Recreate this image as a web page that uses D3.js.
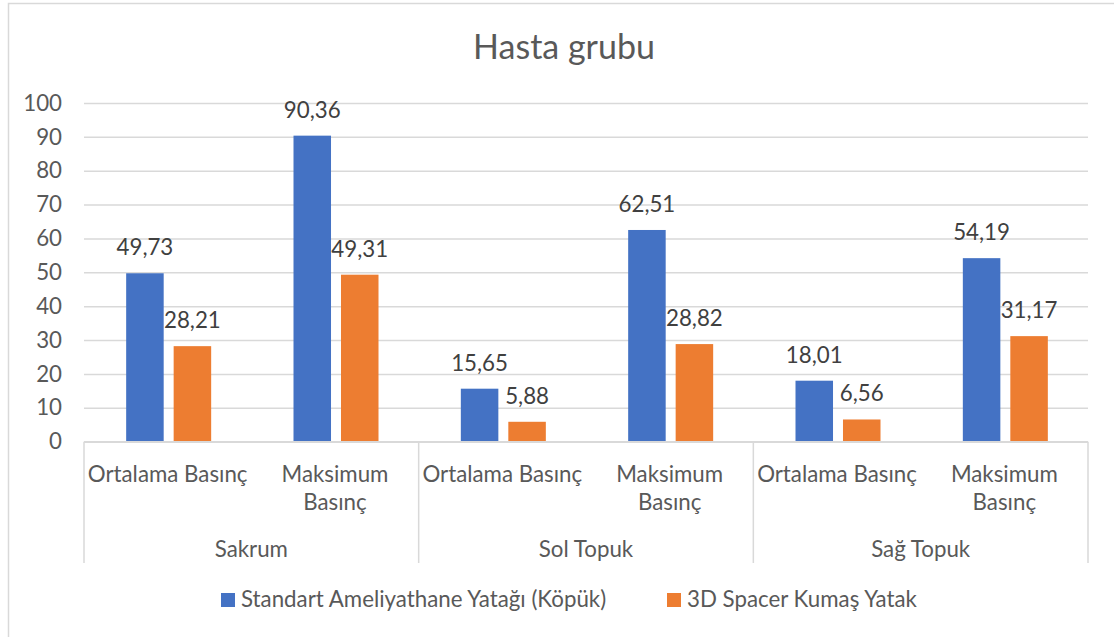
<!DOCTYPE html>
<html><head><meta charset="utf-8">
<script src="https://cdn.jsdelivr.net/npm/d3@7"></script>
<style>body{margin:0;background:#fff}svg{display:block}text{font-family:Lato,"Open Sans",sans-serif}</style>
</head><body><svg id="c" width="1114" height="637"></svg>
<script>
const title = "Hasta grubu";
const groups = ["Sakrum", "Sol Topuk", "Sağ Topuk"];
const subcats = ["Ortalama Basınç", "Maksimum Basınç"];
const seriesNames = ["Standart Ameliyathane Yatağı (Köpük)", "3D Spacer Kumaş Yatak"];
const standart = [49.73, 90.36, 15.65, 62.51, 18.01, 54.19];
const spacer = [28.21, 49.31, 5.88, 28.82, 6.56, 31.17];
const yTicks = [0, 10, 20, 30, 40, 50, 60, 70, 80, 90, 100];
const colors = ["#4472C4", "#ED7D31"];

const svg = d3.select("#c");
const pL = 84, pR = 1088, pT = 103, pB = 441.7;
const FS = 22.3;
const fmt = v => v.toFixed(2).replace(".", ",");

svg.append("rect").attr("x", 8.5).attr("y", 3.5).attr("width", 1200).attr("height", 700)
  .attr("fill", "#fff").attr("stroke", "#d9d9d9").attr("stroke-width", 1.5);

svg.append("text").attr("x", 564).attr("y", 59).attr("text-anchor", "middle")
  .attr("font-size", 34).attr("fill", "#595959").text(title);

const y = d3.scaleLinear().domain([0, 100]).range([pB, pT]);
const keys = [];
groups.forEach(g => subcats.forEach(s => keys.push(g + "|" + s)));
const x0 = d3.scaleBand().domain(keys).range([pL, pR]);
const gx = d3.scaleBand().domain(groups).range([pL, pR]);
const bw = 85;
const x1 = d3.scaleBand().domain([0, 1]).range([0, bw]).paddingInner(0.21);

// gridlines
const yAxis = d3.axisLeft(y).tickValues(yTicks).tickSize(-(pR - pL)).tickPadding(22).tickFormat(d3.format("d"));
const ya = svg.append("g").attr("transform", `translate(${pL},0)`).call(yAxis);
ya.select(".domain").remove();
ya.selectAll(".tick line").attr("stroke", "#d9d9d9").attr("stroke-width", 1.5);
ya.selectAll(".tick text").attr("font-size", FS).attr("fill", "#595959").attr("font-family", "Lato,sans-serif");

// bars
const data = keys.map((k, i) => ({k, vals: [standart[i], spacer[i]]}));
const bg = svg.append("g");
data.forEach(d => {
  const cx = x0(d.k) + x0.bandwidth() / 2 - bw / 2 + 1;
  d.vals.forEach((v, j) => {
    bg.append("rect").attr("x", cx + x1(j)).attr("y", y(v)).attr("width", x1.bandwidth())
      .attr("height", y(0) - y(v)).attr("fill", colors[j]);
    bg.append("text").attr("x", cx + x1(j) + x1.bandwidth() / 2).attr("y", y(v) - 18)
      .attr("text-anchor", "middle").attr("font-size", FS).attr("fill", "#404040").text(fmt(v));
  });
});

// category axis
const ax = svg.append("g");
ax.append("line").attr("x1", pL).attr("x2", pR).attr("y1", pB).attr("y2", pB)
  .attr("stroke", "#d9d9d9").attr("stroke-width", 1.5);
[...groups.map(g => gx(g)), pR].forEach(xx => {
  ax.append("line").attr("x1", xx).attr("x2", xx).attr("y1", pB).attr("y2", 563)
    .attr("stroke", "#d9d9d9").attr("stroke-width", 1.5);
});
keys.forEach(k => {
  const s = k.split("|")[1];
  const t = ax.append("text").attr("x", x0(k) + x0.bandwidth() / 2).attr("y", 482)
    .attr("text-anchor", "middle").attr("font-size", FS).attr("fill", "#595959").text(s);
  if (t.node().getComputedTextLength() > x0.bandwidth() - 4) {
    const words = s.split(" ");
    t.text(null);
    words.forEach((w, i) => t.append("tspan").attr("x", x0(k) + x0.bandwidth() / 2).attr("dy", i ? 28 : 0).text(w));
  }
});
groups.forEach(g => {
  ax.append("text").attr("x", gx(g) + gx.bandwidth() / 2).attr("y", 557)
    .attr("text-anchor", "middle").attr("font-size", FS).attr("fill", "#595959").text(g);
});

// legend
const lg = svg.append("g");
const lx = [221, 667];
seriesNames.forEach((n, i) => {
  lg.append("rect").attr("x", lx[i]).attr("y", 593).attr("width", 14).attr("height", 14).attr("fill", colors[i]);
  lg.append("text").attr("x", lx[i] + 20).attr("y", 607).attr("font-size", FS).attr("fill", "#595959").text(n);
});
</script></body></html>
